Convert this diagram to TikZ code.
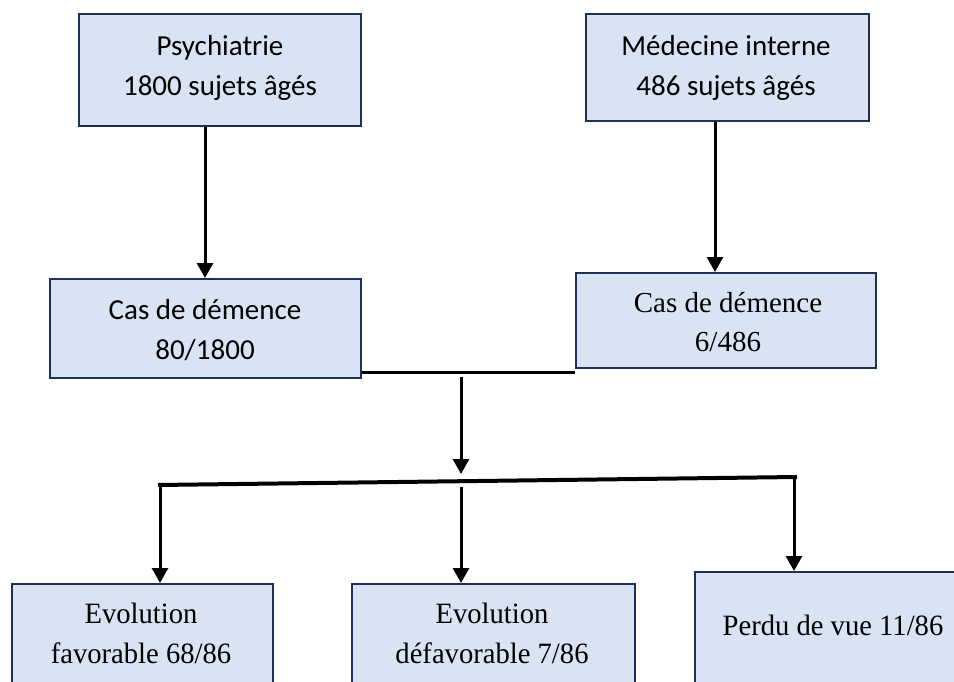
\documentclass[tikz,border=0pt]{standalone}
\usepackage{fontspec}
\usetikzlibrary{arrows.meta}
\newfontfamily\calibrifont{Carlito}
\newfontfamily\timesfont{Liberation Serif}
\newfontfamily\timescond[FakeStretch=0.97]{Liberation Serif}
\definecolor{boxfill}{HTML}{DAE3F3}
\definecolor{boxedge}{HTML}{1F3055}
\tikzset{
  box/.style={draw=boxedge, line width=1.6pt, fill=boxfill, anchor=north west, inner sep=0pt},
  sanstxt/.style={align=center, inner sep=0pt, font={\calibrifont\fontsize{29}{40}\selectfont}},
  seriftxt/.style={align=center, inner sep=0pt, font={\timesfont\fontsize{29}{39}\selectfont}},
  condtxt/.style={align=center, inner sep=0pt, font={\timescond\fontsize{29.5}{40}\selectfont}},
  arr/.style={line width=3pt, -{Triangle[width=16pt,length=15pt]}},
  conn/.style={line width=3pt},
  distline/.style={line width=4pt}
}
\begin{document}
\begin{tikzpicture}[x=1pt,y=-1pt]
\useasboundingbox (0,0) rectangle (954,682);
\clip (0,0) rectangle (954,682);
% boxes
\node[box, minimum width=282pt, minimum height=112pt] (b1) at (78,13) {};
\node[box, minimum width=283pt, minimum height=107pt] (b2) at (585,13) {};
\node[box, minimum width=311pt, minimum height=99pt] (b3) at (49,278) {};
\node[box, minimum width=300pt, minimum height=95pt] (b4) at (575,272) {};
\node[box, minimum width=261pt, minimum height=130pt] (b5) at (11,583) {};
\node[box, minimum width=283pt, minimum height=130pt] (b6) at (351,583) {};
\node[box, minimum width=280pt, minimum height=140pt] (b7) at (694,571) {};
% texts
\node[sanstxt] (t1) at (220,68) {Psychiatrie\\1800 sujets âgés};
\node[sanstxt] (t2) at (726,68) {Médecine interne\\486 sujets âgés};
\node[sanstxt] (t3) at (205,330) {Cas de démence\\80/1800};
\node[seriftxt] (t4) at (728,322) {Cas de démence\\6/486};
\node[condtxt] (t5) at (141,633) {Evolution\\favorable 68/86};
\node[condtxt] (t6) at (492,633) {Evolution\\défavorable 7/86};
\node[condtxt] (t7) at (833,625) {Perdu de vue 11/86};
% coordinates
\coordinate (a1) at (205,0);
\coordinate (a2) at (715,0);
\coordinate (l1) at (0,372);
\coordinate (c1) at (461,377);
\coordinate (c2) at (461,474);
\coordinate (d1) at (158,485);
\coordinate (d2) at (797,477);
\coordinate (e1) at (160,485);
\coordinate (e2) at (461,487);
\coordinate (e3) at (794,477);
% connectors
\draw[arr] (b1.south -| a1) -- (b3.north -| a1);
\draw[arr] (b2.south -| a2) -- (b4.north -| a2);
\draw[conn] (b3.south east |- l1) -- (b4.south west |- l1);
\draw[arr] (c1) -- (c2);
\draw[distline] (d1) -- (d2);
\draw[arr] (e1) -- (b5.north -| e1);
\draw[arr] (e2) -- (b6.north -| e2);
\draw[arr] (e3) -- (b7.north -| e3);
\end{tikzpicture}
\end{document}
